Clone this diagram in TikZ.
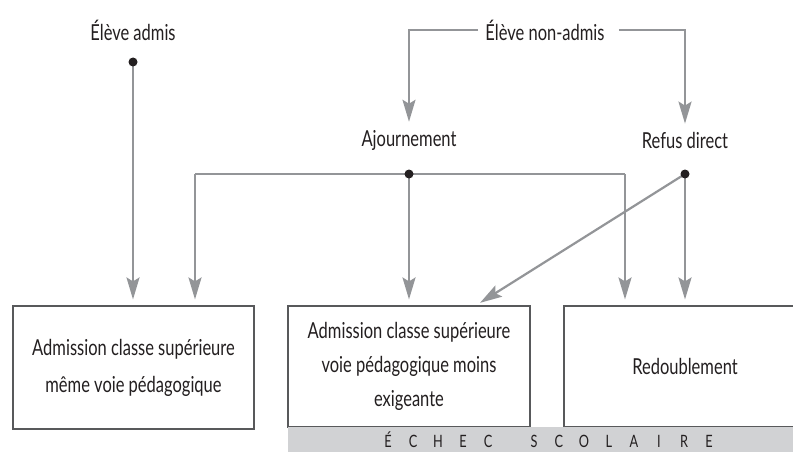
\documentclass[tikz,border=0pt]{standalone}
\usepackage{fontspec}
\setmainfont{Lato}[FakeStretch=0.75]
\usetikzlibrary{arrows.meta}
\definecolor{conn}{RGB}{147,149,152}
\definecolor{boxline}{RGB}{88,89,91}
\definecolor{band}{RGB}{209,210,212}
\definecolor{ink}{RGB}{35,31,32}
\newcommand{\bl}[1]{\makebox[25pt]{#1}}
\tikzset{
  lbl/.style={font=\fontsize{22}{26}\selectfont, text=ink, inner sep=0pt},
  boxnode/.style={draw=boxline, line width=1.1pt, minimum width=242pt, minimum height=122pt, align=center, font=\fontsize{22}{37}\selectfont, text=ink, inner sep=0pt},
  conn/.style={draw=conn, line width=2.2pt},
  arr/.style={conn, -{Stealth[length=22pt,width=13pt,inset=4pt]}},
  dotc/.style={fill=ink},
}
\begin{document}
\begin{tikzpicture}[x=1pt,y=-1pt]
\clip (0,0) rectangle (793,452);
\fill[white] (0,0) rectangle (793,452);
% labels
\node[lbl] (admis) at (133,30) {Élève admis};
\node[lbl] (nonadmis) at (545,30) {Élève non-admis};
\node[lbl] (ajourn) at (409,140) {Ajournement};
\node[lbl] (refus) at (685,140) {Refus direct};
% boxes
\node[boxnode, minimum width=241pt, minimum height=123pt] (box1) at (133.5,367.5) {Admission classe supérieure\\même voie pédagogique};
\node[boxnode, minimum height=121pt] (box2) at (409,366.5) {Admission classe supérieure\\[-3pt]voie pédagogique moins\\[-3pt]exigeante};
\node[boxnode, minimum height=121pt] (box3) at (685,366.5) {Redoublement};
% band
\node[fill=band, minimum width=520pt, minimum height=26pt, inner sep=0pt, anchor=north west] (bandbox) at (288,427) {};
\node[inner sep=0pt, font=\fontsize{17}{20}\selectfont, text=ink] (echec) at (548.5,440) {\bl{É}\bl{C}\bl{H}\bl{E}\bl{C}\makebox[21pt]{}\bl{S}\bl{C}\bl{O}\bl{L}\bl{A}\bl{I}\bl{R}\bl{E}};
% junction coordinates
\coordinate (d1) at (133,62);
\coordinate (d2) at (409,174);
\coordinate (d3) at (685,174);
\coordinate (c1) at (195,174);
\coordinate (c2) at (625,174);
\coordinate (t2) at (475,306);
% connectors
\draw[arr, shorten >=6pt] (d1) -- (d1 |- box1.north);
\draw[arr, shorten >=8pt] ([xshift=-7pt]nonadmis.west) -| (ajourn.north);
\draw[arr, shorten >=8pt] ([xshift=14pt]nonadmis.east) -| (refus.north);
\draw[conn] (c1) -- (c2);
\draw[arr, shorten >=6pt] (c1) -- (c1 |- box1.north);
\draw[arr, shorten >=6pt] (d2) -- (box2.north);
\draw[arr, shorten >=6pt] (c2) -- (c2 |- box3.north);
\draw[arr, shorten >=6pt] (d3) -- (box3.north);
\draw[arr, shorten >=6pt] (d3) -- (t2);
% dots
\fill[dotc] (d1) circle (4.5pt);
\fill[dotc] (d2) circle (4.5pt);
\fill[dotc] (d3) circle (4.5pt);
\end{tikzpicture}
\end{document}
